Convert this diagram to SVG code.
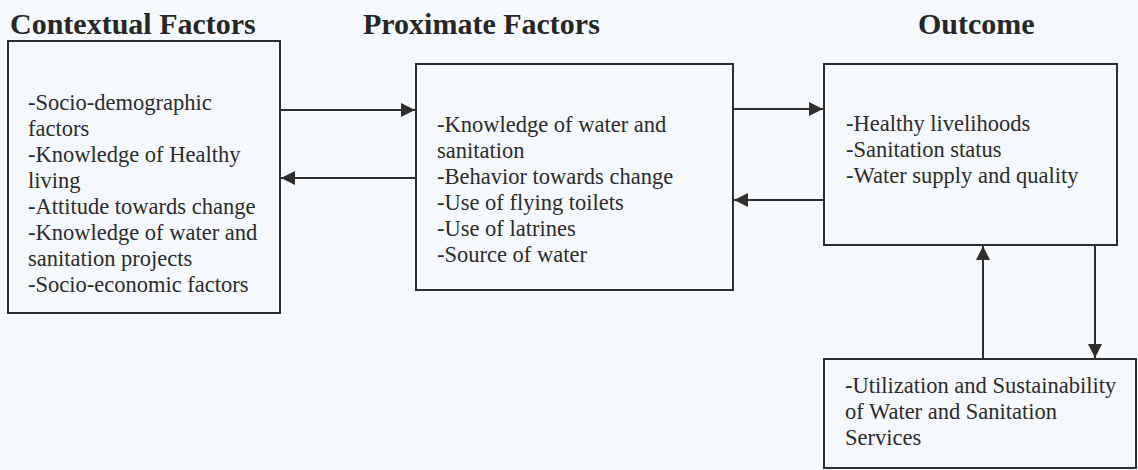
<svg xmlns="http://www.w3.org/2000/svg" width="1138" height="470" viewBox="0 0 1138 470">
<style>
.bg{fill:#f6f9fb}
.box{fill:none;stroke:#2e2e2e;stroke-width:2}
.head{font-family:"Liberation Serif","Times New Roman",serif;font-weight:bold;font-size:30px;fill:#262626}
.t{font-family:"Liberation Serif","Times New Roman",serif;font-size:22.5px;fill:#2b2b2b}
.c{fill:none;stroke:#2e2e2e;stroke-width:2}
</style>
<defs>
<marker id="ah" markerUnits="userSpaceOnUse" markerWidth="15" markerHeight="14" refX="14" refY="7" orient="auto">
<path d="M0,0 L14,7 L0,14 z" fill="#2e2e2e"/>
</marker>
</defs>
<rect class="bg" x="0" y="0" width="1138" height="470"/>
<g id="headings">
<text class="head" x="10" y="34">Contextual Factors</text>
<text class="head" x="363" y="34">Proximate Factors</text>
<text class="head" x="918" y="34">Outcome</text>
</g>
<g id="contextual">
<rect class="box" x="8" y="41" width="272" height="272"/>
<text class="t" x="28" y="110">-Socio-demographic</text>
<text class="t" x="28" y="136">factors</text>
<text class="t" x="28" y="162">-Knowledge of Healthy</text>
<text class="t" x="28" y="188">living</text>
<text class="t" x="28" y="214">-Attitude towards change</text>
<text class="t" x="28" y="240">-Knowledge of water and</text>
<text class="t" x="28" y="266">sanitation projects</text>
<text class="t" x="28" y="292">-Socio-economic factors</text>
</g>
<g id="proximate">
<rect class="box" x="416" y="64" width="317" height="226"/>
<text class="t" x="437" y="132">-Knowledge of water and</text>
<text class="t" x="437" y="158">sanitation</text>
<text class="t" x="437" y="184">-Behavior towards change</text>
<text class="t" x="437" y="210">-Use of flying toilets</text>
<text class="t" x="437" y="236">-Use of latrines</text>
<text class="t" x="437" y="262">-Source of water</text>
</g>
<g id="outcome">
<rect class="box" x="824" y="64" width="293" height="181"/>
<text class="t" x="846" y="131">-Healthy livelihoods</text>
<text class="t" x="846" y="157">-Sanitation status</text>
<text class="t" x="846" y="183">-Water supply and quality</text>
</g>
<g id="utilization">
<rect class="box" x="824" y="359" width="312" height="109"/>
<text class="t" x="845" y="393">-Utilization and Sustainability</text>
<text class="t" x="845" y="419">of Water and Sanitation</text>
<text class="t" x="845" y="445">Services</text>
</g>
<g id="connectors">
<line class="c" x1="281" y1="110" x2="415" y2="110" marker-end="url(#ah)"/>
<line class="c" x1="415" y1="178" x2="281" y2="178" marker-end="url(#ah)"/>
<line class="c" x1="734" y1="109" x2="823" y2="109" marker-end="url(#ah)"/>
<line class="c" x1="823" y1="200" x2="734" y2="200" marker-end="url(#ah)"/>
<line class="c" x1="983" y1="358" x2="983" y2="246" marker-end="url(#ah)"/>
<line class="c" x1="1095" y1="246" x2="1095" y2="358" marker-end="url(#ah)"/>
</g>
</svg>
